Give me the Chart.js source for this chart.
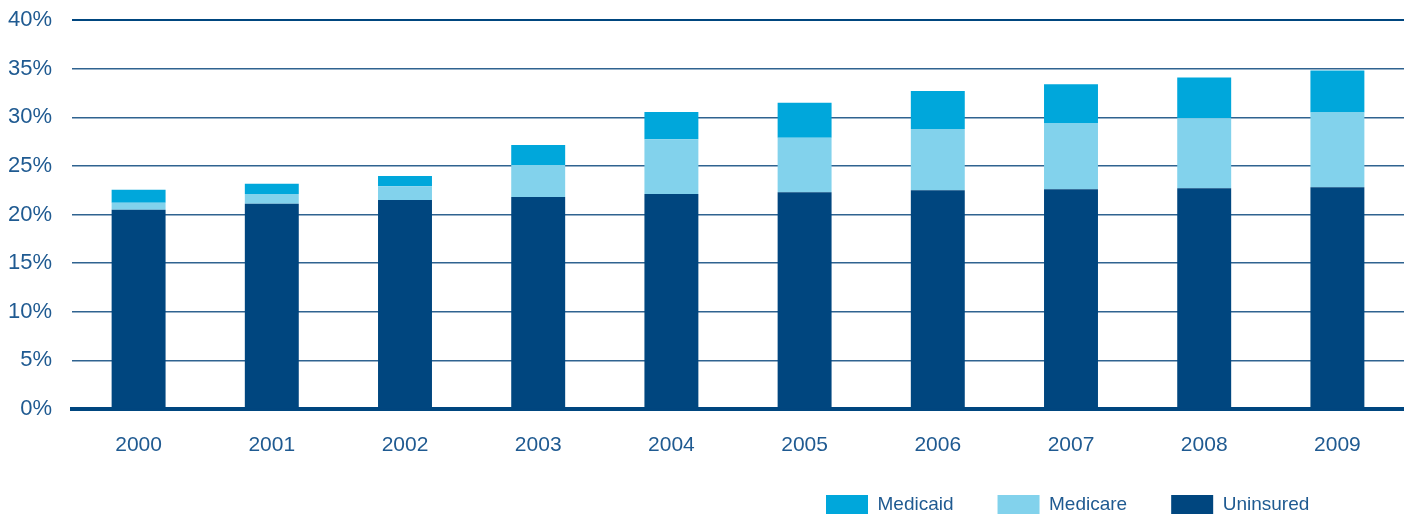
<!DOCTYPE html>
<html>
<head>
<meta charset="utf-8">
<script src="https://cdn.jsdelivr.net/npm/chart.js@4/dist/chart.umd.min.js"></script>
<style>
  html, body { margin: 0; padding: 0; background: #fff; }
  #wrap { width: 1404px; height: 517px; position: relative; }
</style>
</head>
<body>
<div id="wrap"><canvas id="c" width="1404" height="517"></canvas></div>
<script>
const years = ['2000','2001','2002','2003','2004','2005','2006','2007','2008','2009'];
const uninsured = [20.5, 21.1, 21.5, 21.8, 22.1, 22.3, 22.5, 22.6, 22.7, 22.8];
const medicare  = [0.7, 1.0, 1.4, 3.3, 5.65, 5.6, 6.3, 6.8, 7.2, 7.7];
const medicaid  = [1.35, 1.05, 1.05, 2.05, 2.8, 3.6, 3.9, 4.0, 4.2, 4.3];
const yTicks = [0, 5, 10, 15, 20, 25, 30, 35, 40];

const FONT = "'Liberation Sans', Arial, Helvetica, sans-serif";
const TEXT = '#1f5a91';

const layoutFix = {
  id: 'layoutFix',
  afterLayout(chart) {
    const lg = chart.legend;
    if (lg) {
      lg.top = 451;
      lg.bottom = lg.top + lg.height;
      lg.left = 782;
    }
    const xs = chart.scales.x;
    if (xs) { xs.bottom = 478; }
  }
};

new Chart(document.getElementById('c'), {
  type: 'bar',
  data: {
    labels: years,
    datasets: [
      { label: 'Uninsured', data: uninsured, backgroundColor: '#00467f' },
      { label: 'Medicare',  data: medicare,  backgroundColor: '#82d2ec' },
      { label: 'Medicaid',  data: medicaid,  backgroundColor: '#00a7db' }
    ]
  },
  options: {
    responsive: false,
    animation: false,
    devicePixelRatio: 1,
    layout: { padding: { top: 20, right: 0, left: 0, bottom: 0 } },
    datasets: { bar: { categoryPercentage: 1.0, barPercentage: 0.405, borderWidth: 0 } },
    scales: {
      x: {
        stacked: true,
        grid: { display: false, drawTicks: false },
        border: { display: true, color: '#00467f', width: 4 },
        ticks: { color: TEXT, font: { family: FONT, size: 21 }, padding: 24, maxRotation: 0 },
        afterFit: (scale) => {
          const lh = scale.chart.legend ? scale.chart.legend.height : 0;
          scale.height = Math.max(108 - lh, 10);
        }
      },
      y: {
        stacked: true,
        min: 0, max: 40,
        afterBuildTicks: (scale) => { scale.ticks = yTicks.map(v => ({ value: v })); },
        grid: {
          drawTicks: false,
          color: (ctx) => ctx.tick && ctx.tick.value === 0 ? 'rgba(0,0,0,0)' : (ctx.tick && ctx.tick.value === 40 ? '#00467f' : '#2f6390'),
          lineWidth: (ctx) => ctx.tick && ctx.tick.value === 40 ? 2 : 1.5
        },
        border: { display: false },
        ticks: {
          color: TEXT,
          font: { family: FONT, size: 22 },
          padding: 20,
          callback: (v) => v + '%'
        },
        afterFit: (scale) => { scale.width = 72; scale.paddingTop = 0; scale.paddingBottom = 0; }
      }
    },
    plugins: {
      legend: {
        position: 'bottom',
        align: 'start',
        reverse: true,
        labels: {
          boxWidth: 42,
          boxHeight: 19,
          padding: 44,
          color: TEXT,
          font: { family: FONT, size: 19 }
        }
      },
      tooltip: { enabled: false }
    }
  },
  plugins: [layoutFix]
});
</script>
</body>
</html>
